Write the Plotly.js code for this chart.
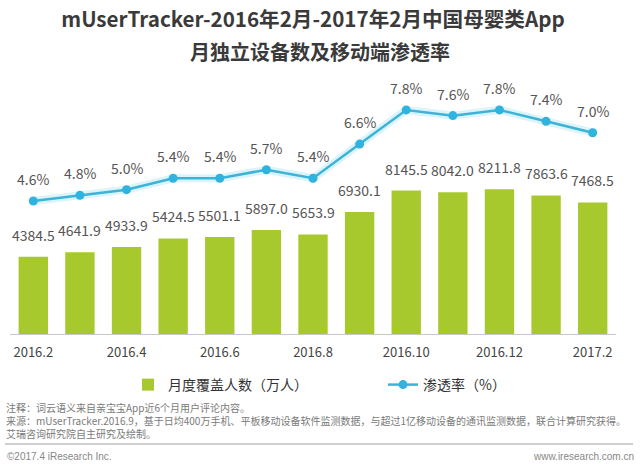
<!DOCTYPE html>
<html>
<head>
<meta charset="utf-8">
<script src="https://cdn.plot.ly/plotly-3.0.1.min.js"></script>
<style>
  html, body { margin: 0; padding: 0; background: #fff; }
  #chart { width: 640px; height: 466px; }
</style>
</head>
<body>
<div id="chart"></div>
<script>
// ---- data ----
const months = ["2016.2","2016.3","2016.4","2016.5","2016.6","2016.7","2016.8","2016.9","2016.10","2016.11","2016.12","2017.1","2017.2"];
const devices = [4384.5, 4641.9, 4933.9, 5424.5, 5501.1, 5897.0, 5653.9, 6930.1, 8145.5, 8042.0, 8211.8, 7863.6, 7468.5];
const penetration = [4.6, 4.8, 5.0, 5.4, 5.4, 5.7, 5.4, 6.6, 7.8, 7.6, 7.8, 7.4, 7.0];
const tickMonths = ["2016.2","2016.4","2016.6","2016.8","2016.10","2016.12","2017.2"];
const seriesNames = ["月度覆盖人数（万人）", "渗透率（%）"];
const titleLines = ["mUserTracker-2016年2月-2017年2月中国母婴类App", "月独立设备数及移动端渗透率"];
const notes = [
  "注释：词云语义来自亲宝宝App近6个月用户评论内容。",
  "来源：mUserTracker.2016.9，基于日均400万手机、平板移动设备软件监测数据，与超过1亿移动设备的通讯监测数据，联合计算研究获得。",
  "艾瑞咨询研究院自主研究及绘制。"
];
const footerLeft = "©2017.4 iResearch Inc.";
const footerRight = "www.iresearch.com.cn";

// ---- layout geometry ----
const W = 640, H = 466;
const M = {l: 10, r: 24, t: 90, b: 132};
const PW = W - M.l - M.r, PH = H - M.t - M.b;
const px2x = px => (px - M.l) / PW;
const py2y = py => (H - M.b - py) / PH;

const FONT = '"Noto Sans CJK SC", "Noto Sans", sans-serif';
const barColor = '#a8c92e';
const lineColor = '#3db4d6';

const traces = [
  {
    type: 'bar', name: seriesNames[0], x: months, y: devices,
    marker: {color: barColor}, yaxis: 'y', hoverinfo: 'skip', legend: 'legend'
  },
  {
    type: 'scatter', mode: 'lines', x: months, y: penetration, yaxis: 'y2',
    line: {color: 'rgba(90,200,235,0.22)', width: 8}, showlegend: false, hoverinfo: 'skip'
  },
  {
    type: 'scatter', mode: 'lines+markers', name: seriesNames[1], x: months, y: penetration,
    yaxis: 'y2', line: {color: lineColor, width: 2.5}, legend: 'legend2',
    marker: {color: '#2fb3df', size: 9}, hoverinfo: 'skip'
  }
];

const annotations = [];
months.forEach((m, i) => {
  annotations.push({
    x: i, y: devices[i], xref: 'x', yref: 'y', text: devices[i].toFixed(1),
    showarrow: false, yanchor: 'bottom', yshift: 10,
    font: {family: FONT, size: 14, color: '#555'}
  });
  annotations.push({
    x: i, y: penetration[i], xref: 'x', yref: 'y2', text: penetration[i].toFixed(1) + '%',
    showarrow: false, yanchor: 'bottom', yshift: 10,
    font: {family: FONT, size: 14, color: '#555'}
  });
});
// second title line
annotations.push({
  xref: 'paper', yref: 'paper', x: px2x(320), y: py2y(52), text: '<b>' + titleLines[1] + '</b>',
  showarrow: false, xanchor: 'center', yanchor: 'middle',
  font: {family: FONT, size: 20, color: '#3a3a3a'}
});
// notes
annotations.push({
  xref: 'paper', yref: 'paper', x: px2x(5), y: py2y(399), text: notes.join('<br>'),
  showarrow: false, xanchor: 'left', yanchor: 'top', align: 'left', borderpad: 0,
  font: {family: FONT, size: 10, color: '#7a7a7a'}
});
annotations.push({
  xref: 'paper', yref: 'paper', x: px2x(5), y: py2y(456), text: footerLeft,
  showarrow: false, xanchor: 'left', yanchor: 'middle',
  font: {family: '"Liberation Sans", Arial, sans-serif', size: 10, color: '#888'}
});
annotations.push({
  xref: 'paper', yref: 'paper', x: px2x(636), y: py2y(456), text: footerRight,
  showarrow: false, xanchor: 'right', yanchor: 'middle',
  font: {family: '"Liberation Sans", Arial, sans-serif', size: 10, color: '#888'}
});

const hiddenAxis = {showgrid: false, zeroline: false, showline: false, showticklabels: false, ticks: ''};

const layout = {
  width: W, height: H,
  margin: M,
  paper_bgcolor: '#fff', plot_bgcolor: '#fff',
  font: {family: FONT, color: '#333'},
  title: {
    text: '<b>' + titleLines[0] + '</b>',
    x: 0.5, xref: 'paper', xanchor: 'center',
    y: 1 - 20 / H, yref: 'container', yanchor: 'middle',
    font: {family: FONT, size: 20.6, color: '#3a3a3a'}
  },
  bargap: 0.37,
  xaxis: {
    type: 'category', range: [-0.5, 12.5],
    tickmode: 'array', tickvals: tickMonths, ticktext: tickMonths,
    tickfont: {family: FONT, size: 13, color: '#444'},
    showline: true, linecolor: '#c8c8c8', linewidth: 1,
    showgrid: false, zeroline: false, ticks: '', ticklabelstandoff: 6
  },
  yaxis: Object.assign({range: [0, 13850]}, hiddenAxis),
  yaxis2: Object.assign({range: [-0.07, 8.50], overlaying: 'y', side: 'right'}, hiddenAxis),
  legend: {
    orientation: 'h', x: px2x(128), y: py2y(385), xanchor: 'left', yanchor: 'middle',
    font: {family: FONT, size: 14, color: '#333'}, bgcolor: 'rgba(0,0,0,0)'
  },
  legend2: {
    orientation: 'h', x: px2x(383), y: py2y(385), xanchor: 'left', yanchor: 'middle',
    font: {family: FONT, size: 14, color: '#333'}, bgcolor: 'rgba(0,0,0,0)'
  },
  shapes: [{
    type: 'line', xref: 'paper', yref: 'paper',
    x0: px2x(5), x1: px2x(633), y0: py2y(444), y1: py2y(444),
    line: {color: '#a0a0a0', width: 1}
  }],
  annotations: annotations,
  showlegend: true
};

Plotly.newPlot('chart', traces, layout, {staticPlot: true, displayModeBar: false});
</script>
</body>
</html>
